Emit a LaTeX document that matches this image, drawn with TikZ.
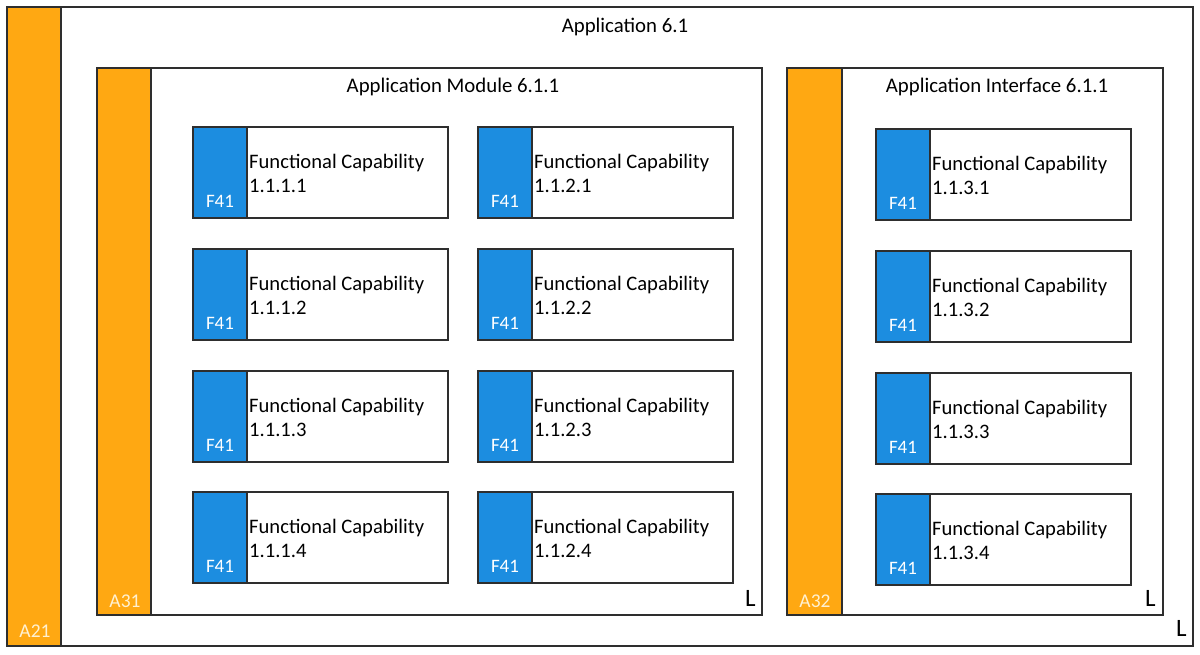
\documentclass[tikz,border=0pt]{standalone}
\usepackage{fontspec}
\setmainfont{Carlito}
\usetikzlibrary{calc}
\definecolor{borange}{HTML}{FFA812}
\definecolor{bblue}{HTML}{1C8DE0}
\definecolor{bline}{HTML}{2E2E2E}
\definecolor{alabel}{HTML}{FFF1D2}
\tikzset{
  frame/.style={draw=bline, line width=1.8pt, fill=white, anchor=north west, inner sep=0pt, outer sep=0pt},
  obar/.style={draw=bline, line width=1.8pt, fill=borange, anchor=north west, inner sep=0pt, outer sep=0pt},
  bbar/.style={draw=bline, line width=1.8pt, fill=bblue, anchor=north west, inner sep=0pt, outer sep=0pt},
  ttl/.style={font=\fontsize{20.8}{24}\selectfont, text=black, inner sep=0pt, anchor=base},
  fct/.style={font=\fontsize{20.6}{24}\selectfont, text=black, inner sep=0pt, anchor=base west},
  ftag/.style={font=\fontsize{19}{22}\selectfont, text=white, inner sep=0pt, anchor=base},
  atag/.style={font=\fontsize{19.5}{22}\selectfont, text=alabel, inner sep=0pt, anchor=base},
  lmark/.style={font=\fontsize{25}{28}\selectfont, text=black, inner sep=0pt, anchor=base west},
}
\newcommand\fcap[4]{% name, x, y, number
  \node[frame, minimum width=255pt, minimum height=91pt] (#1) at (#2,#3) {};
  \node[bbar, minimum width=54pt, minimum height=91pt] (#1b) at (#2,#3) {};
  \node[ftag] (#1t) at ($(#2,#3)+(27,80)$) {F41};
  \node[fct] (#1a) at ($(#2,#3)+(56,41)$) {Functional Capability};
  \node[fct] (#1n) at ($(#2,#3)+(56,65)$) {#4};
}
\begin{document}
\begin{tikzpicture}[x=1pt,y=-1pt]
\useasboundingbox (0,0) rectangle (1200,654);
% outer application
\node[frame, minimum width=1186pt, minimum height=639pt] (app) at (7,7) {};
\node[obar, minimum width=54pt, minimum height=639pt] (appbar) at (7,7) {};
\node[atag] (a21) at (35,637) {A21};
\node[ttl] (appt) at (625,32) {Application 6.1};
\node[lmark] (l3) at (1176,636) {L};
% module
\node[frame, minimum width=665pt, minimum height=547pt] (mod) at (97,68) {};
\node[obar, minimum width=54pt, minimum height=547pt] (modbar) at (97,68) {};
\node[atag] (a31) at (125,607) {A31};
\node[ttl] (modt) at (453,92) {Application Module 6.1.1};
\node[lmark] (l1) at (745,606) {L};
% interface
\node[frame, minimum width=376pt, minimum height=547pt] (ifc) at (787,68) {};
\node[obar, minimum width=55pt, minimum height=547pt] (ifcbar) at (787,68) {};
\node[atag] (a32) at (815,607) {A32};
\node[ttl] (ifct) at (997,92) {Application Interface 6.1.1};
\node[lmark] (l2) at (1145,606) {L};
% capabilities
\fcap{c11}{193}{127}{1.1.1.1}
\fcap{c12}{193}{249}{1.1.1.2}
\fcap{c13}{193}{371}{1.1.1.3}
\fcap{c14}{193}{492}{1.1.1.4}
\fcap{c21}{478}{127}{1.1.2.1}
\fcap{c22}{478}{249}{1.1.2.2}
\fcap{c23}{478}{371}{1.1.2.3}
\fcap{c24}{478}{492}{1.1.2.4}
\fcap{c31}{876}{129}{1.1.3.1}
\fcap{c32}{876}{251}{1.1.3.2}
\fcap{c33}{876}{373}{1.1.3.3}
\fcap{c34}{876}{494}{1.1.3.4}
\end{tikzpicture}
\end{document}
